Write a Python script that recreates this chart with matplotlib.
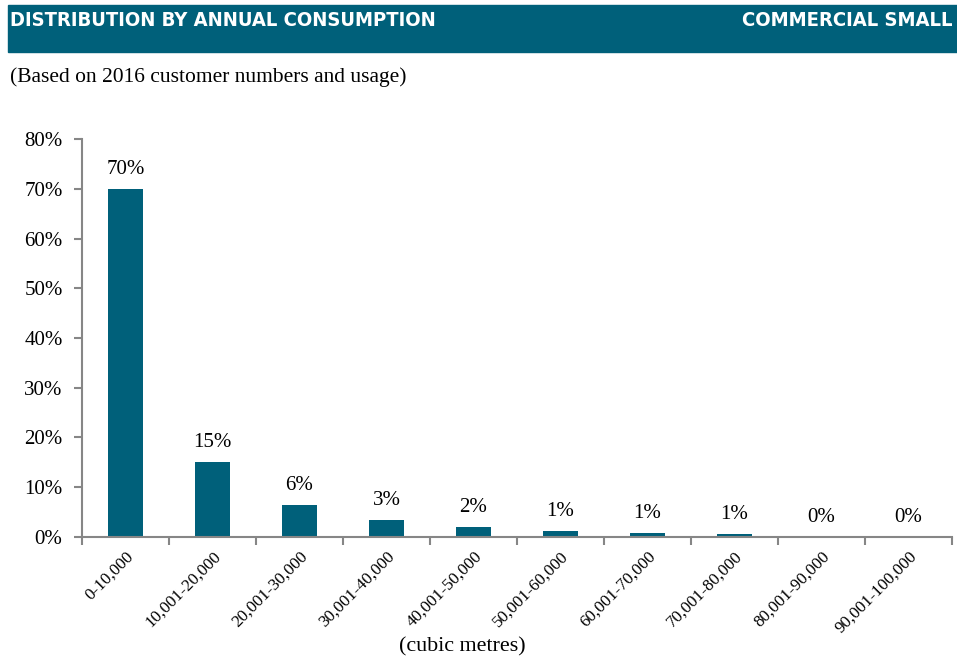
import matplotlib.pyplot as plt
from matplotlib.patches import Rectangle
from matplotlib.ticker import FuncFormatter, FixedLocator
import numpy as np

# Andel kunder per forbruksintervall (prosent)
categories = ["0-10,000", "10,001-20,000", "20,001-30,000", "30,001-40,000",
              "40,001-50,000", "50,001-60,000", "60,001-70,000", "70,001-80,000",
              "80,001-90,000", "90,001-100,000"]
shares = [70.0, 15.1, 6.4, 3.4, 2.0, 1.2, 0.8, 0.6, 0.1, 0.0]

teal = "#00607a"
grey = "#868686"
serif = ["Liberation Serif", "DejaVu Serif"]

fig = plt.figure(figsize=(9.57, 6.61), dpi=100)
ax = fig.add_axes([0.0857, 0.1876, 0.9091, 0.6021])

# Topplinje med tittel
fig.patches.append(Rectangle((8 / 957, 1 - 52 / 661), 1 - 8 / 957, 47 / 661,
                             transform=fig.transFigure, color=teal, zorder=0))
head_font = ["DejaVu Sans"]
fig.text(10 / 957, 1 - 20 / 661, "DISTRIBUTION BY ANNUAL CONSUMPTION", color="white",
         fontsize=14.5, fontweight="bold", fontstretch="condensed", family=head_font,
         va="center", ha="left")
fig.text(952 / 957, 1 - 20 / 661, "COMMERCIAL SMALL", color="white",
         fontsize=14.5, fontweight="bold", fontstretch="condensed", family=head_font,
         va="center", ha="right")
fig.text(10 / 957, 1 - 77 / 661, "(Based on 2016 customer numbers and usage)",
         fontsize=15.5, family=serif, va="center", ha="left")

x = np.arange(len(categories))
bars = ax.bar(x, shares, width=0.4, color=teal)

for xi, v in zip(x, shares):
    ax.annotate(f"{v:.0f}%", (xi, v), xytext=(0, 7), textcoords="offset points",
                ha="center", va="bottom", fontsize=15, family=serif)

ax.set_xlim(-0.5, len(categories) - 0.5)
ax.set_ylim(0, 80)
ax.yaxis.set_major_locator(FixedLocator(np.arange(0, 81, 10)))
ax.yaxis.set_major_formatter(FuncFormatter(lambda v, p: f"{v:.0f}%"))

ax.set_xticks(x)
ax.set_xticklabels(categories, rotation=45, ha="right", rotation_mode="anchor",
                   fontsize=12.3, family=serif)
ax.tick_params(axis="x", which="major", length=0, pad=8)
ax.set_xticks(np.arange(-0.5, len(categories)), minor=True)
ax.tick_params(axis="x", which="minor", length=6, width=1.5, color=grey)
ax.tick_params(axis="y", length=6, width=1.5, color=grey, labelsize=15, pad=8)
for lab in ax.get_yticklabels():
    lab.set_family(serif)

for side in ["top", "right"]:
    ax.spines[side].set_visible(False)
for side in ["left", "bottom"]:
    ax.spines[side].set_color(grey)
    ax.spines[side].set_linewidth(1.5)

fig.text(462 / 957, 1 - 647 / 661, "(cubic metres)", fontsize=15.8, family=serif,
         ha="center", va="center")

fig.savefig("out.png", dpi=100)
